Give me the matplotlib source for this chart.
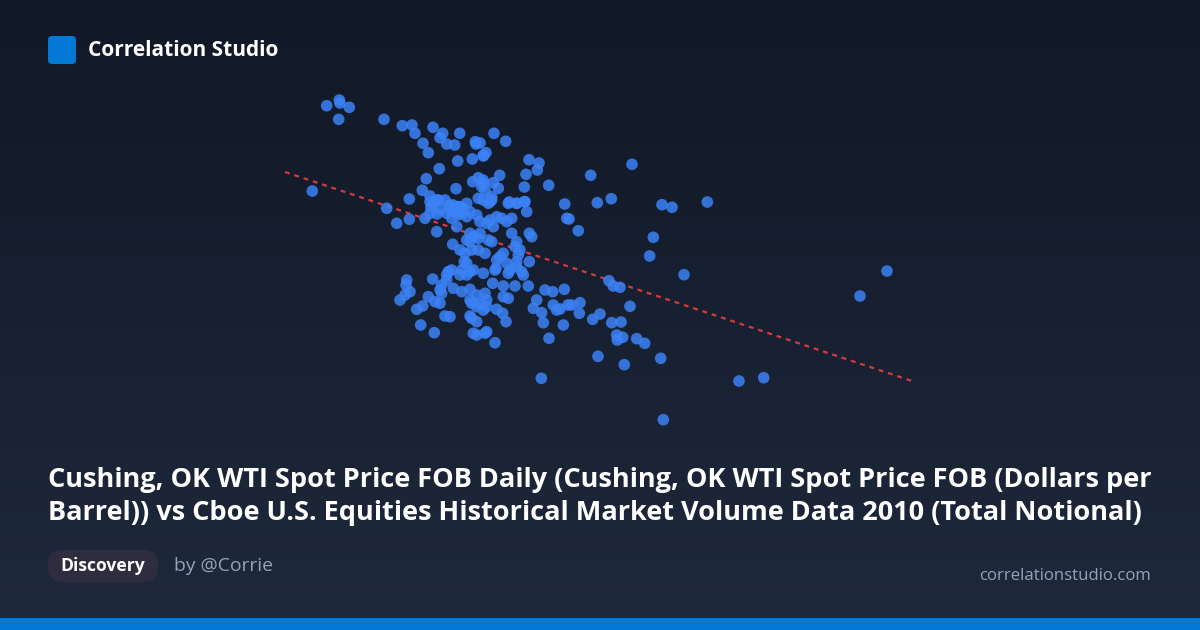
import numpy as np
import matplotlib.pyplot as plt
from matplotlib.patches import FancyBboxPatch, Rectangle

# scatter values (horizontal / vertical position units)
x_vals = [
    326.7, 339.3, 340.0, 349.3, 338.7, 384.0, 402.3, 412.0, 415.0, 433.0,
    442.7, 440.0, 446.7, 454.7, 459.7, 423.0, 428.3, 475.3, 476.0, 483.3,
    457.7, 472.3, 439.3, 426.3, 422.3, 456.0, 472.7, 478.3, 483.3, 312.3,
    409.3, 430.0, 438.3, 453.0, 460.0, 478.3, 483.3, 386.7, 494.0, 505.7,
    480.0, 486.0, 483.3, 529.0, 539.0, 537.3, 526.0, 499.7, 493.3, 498.3,
    483.0, 481.7, 485.0, 548.7, 524.3, 590.7, 632.0, 509.3, 516.7, 524.3,
    491.7, 490.0, 564.7, 597.3, 611.3, 662.0, 672.0, 707.3, 396.7, 409.3,
    425.0, 430.0, 433.3, 436.7, 436.7, 450.0, 455.0, 458.3, 461.7, 446.7,
    451.7, 456.7, 466.7, 470.0, 466.7, 476.7, 480.0, 486.7, 490.0, 493.3,
    488.3, 491.7, 496.7, 501.7, 506.7, 511.7, 508.3, 516.7, 525.0, 526.7,
    566.7, 470.0, 473.3, 478.3, 480.0, 466.7, 470.0, 488.3, 491.7, 452.7,
    460.0, 465.0, 471.7, 478.3, 485.0, 511.7, 516.7, 515.0, 529.3, 531.7,
    520.0, 518.3, 503.3, 500.0, 496.7, 464.3, 466.7, 529.3, 516.7, 506.7,
    510.0, 508.3, 516.7, 521.7, 523.3, 496.0, 495.0, 448.3, 446.7, 451.7,
    461.7, 460.0, 466.7, 470.0, 473.3, 483.3, 432.7, 406.7, 406.0, 410.0,
    405.0, 400.0, 446.7, 441.7, 440.0, 441.7, 453.3, 461.7, 470.0, 492.7,
    503.3, 515.0, 528.3, 503.3, 508.3, 476.7, 485.0, 486.7, 480.0, 486.7,
    483.3, 470.0, 471.7, 476.7, 428.3, 435.0, 440.0, 422.7, 416.7, 445.0,
    450.0, 470.0, 471.7, 476.7, 496.7, 502.7, 506.0, 420.7, 434.3, 473.3,
    476.7, 485.0, 486.7, 495.0, 545.0, 552.7, 564.3, 536.7, 533.3, 541.7,
    543.3, 553.3, 556.7, 563.3, 549.0, 568.0, 569.0, 578.3, 653.3, 649.7,
    684.0, 609.0, 613.3, 620.0, 571.7, 580.0, 579.3, 560.0, 592.7, 600.0,
    630.0, 611.7, 621.0, 616.7, 622.7, 617.3, 636.7, 644.7, 598.0, 624.3,
    660.7, 541.3, 739.0, 763.7, 663.3, 860.0, 887.0, 430.0, 445.0, 449.0,
    452.0, 455.0, 458.0, 440.0, 463.0, 431.0, 437.0,
]
y_vals = [
    105.7, 100.0, 103.0, 107.3, 119.3, 119.3, 125.7, 125.0, 133.3, 127.3,
    133.3, 137.7, 144.0, 145.0, 133.3, 143.3, 152.7, 141.7, 144.0, 155.3,
    161.0, 159.0, 168.7, 178.7, 190.3, 188.7, 181.7, 177.7, 183.3, 191.0,
    199.0, 201.7, 200.0, 205.0, 206.7, 198.3, 200.0, 208.3, 133.3, 141.3,
    143.0, 152.7, 156.0, 159.7, 163.0, 170.0, 174.3, 175.3, 182.7, 188.3,
    180.0, 186.7, 190.0, 185.3, 187.0, 175.3, 164.3, 202.0, 203.3, 201.7,
    196.7, 201.7, 204.0, 202.7, 198.7, 204.7, 207.3, 202.0, 223.3, 219.3,
    218.3, 213.3, 203.3, 200.0, 231.7, 205.0, 208.3, 206.7, 213.3, 213.3,
    218.3, 226.7, 203.3, 211.7, 216.7, 215.0, 221.7, 223.3, 220.0, 226.7,
    203.3, 200.0, 216.7, 218.3, 221.7, 218.3, 203.3, 203.3, 201.7, 211.7,
    218.3, 233.3, 236.7, 238.3, 233.3, 240.0, 241.7, 240.0, 241.7, 244.3,
    250.0, 253.3, 250.0, 250.0, 253.3, 233.3, 241.7, 246.7, 233.3, 236.7,
    250.0, 255.0, 253.3, 256.7, 260.0, 261.7, 263.3, 261.7, 261.7, 263.3,
    270.0, 273.3, 266.7, 271.7, 275.0, 268.3, 270.0, 271.7, 275.0, 270.0,
    270.0, 275.0, 275.0, 271.7, 270.0, 273.3, 279.0, 280.0, 285.0, 291.7,
    295.0, 300.0, 280.0, 285.0, 290.0, 293.3, 288.3, 291.7, 289.3, 283.3,
    286.0, 286.0, 286.0, 296.7, 298.3, 295.0, 293.3, 300.0, 303.3, 306.7,
    310.0, 300.0, 303.3, 306.7, 296.7, 301.7, 303.3, 306.0, 309.3, 316.0,
    316.7, 316.0, 318.3, 321.7, 309.3, 313.3, 321.7, 325.0, 332.7, 333.3,
    335.0, 333.3, 331.7, 342.7, 290.0, 291.7, 289.3, 300.0, 308.3, 312.7,
    322.7, 305.0, 310.0, 325.0, 338.3, 305.0, 219.0, 230.7, 237.3, 256.0,
    274.7, 280.7, 286.0, 287.3, 305.0, 302.7, 313.3, 309.0, 319.3, 314.0,
    306.3, 322.7, 322.0, 335.0, 337.3, 340.0, 338.7, 343.3, 356.3, 364.7,
    358.3, 378.3, 381.0, 377.7, 419.7, 296.0, 271.0, 196.0, 200.0, 206.0,
    210.0, 212.0, 215.0, 210.0, 208.0, 207.0, 214.0,
]

# fitted trend line
trend_x_range = [285.0, 915.0]
trend_slope = 0.3333
trend_at_start = 172.0

title_lines = [
    "Cushing, OK WTI Spot Price FOB Daily (Cushing, OK WTI Spot Price FOB (Dollars per",
    "Barrel)) vs Cboe U.S. Equities Historical Market Volume Data 2010 (Total Notional)",
]
brand = "Correlation Studio"
tag = "Discovery"
author = "by @Corrie"
site = "correlationstudio.com"

W, H = 1200, 630
fig = plt.figure(figsize=(W / 100, H / 100), dpi=100)

# background gradient
bg = fig.add_axes([0, 0, 1, 1])
grad = np.linspace(0, 1, 256).reshape(-1, 1)
top = np.array([17, 24, 39]) / 255
bot = np.array([30, 41, 59]) / 255
img = top + (bot - top) * grad[..., None]
bg.imshow(img, aspect="auto", extent=[0, W, H, 0])
bg.set_xlim(0, W)
bg.set_ylim(H, 0)
bg.axis("off")

# scatter layer
ax = fig.add_axes([0, 0, 1, 1])
ax.set_xlim(0, W)
ax.set_ylim(H, 0)
ax.axis("off")
ax.patch.set_alpha(0)

ax.scatter(x_vals, y_vals, s=70, color="#3b82f6", alpha=0.85, edgecolors="none", zorder=3)

tx = np.array(trend_x_range)
ty = trend_at_start + (tx - tx[0]) * trend_slope
ax.plot(tx, ty, color="#d63a3f", linewidth=1.6, linestyle=(0, (2.2, 2.2)), zorder=2)

# header
ax.add_patch(FancyBboxPatch((48, 36), 28, 28, boxstyle="round,pad=0,rounding_size=4",
                            facecolor="#0078d4", edgecolor="none"))
ax.text(88, 51, brand, color="white", fontsize=15, fontweight="bold",
        family="Open Sans", va="center", ha="left")

# title
for i, line in enumerate(title_lines):
    ax.text(48, 480 + i * 33, line, color="white", fontsize=19.5, fontweight="bold",
            family="Open Sans", va="center", ha="left")

# footer
ax.add_patch(FancyBboxPatch((48, 550), 110, 32, boxstyle="round,pad=0,rounding_size=14",
                            facecolor="#2e2c3e", edgecolor="none"))
ax.text(103, 566, tag, color="white", fontsize=12.6, fontweight="bold",
        family="Open Sans", va="center", ha="center")
ax.text(174, 566, author, color="#94a3b8", fontsize=13.9,
        family="Open Sans", va="center", ha="left")
ax.text(1151, 576, site, color="#94a3b8", fontsize=12.1,
        family="Open Sans", va="center", ha="right")

ax.add_patch(Rectangle((0, 618), W, 12, facecolor="#0078d4", edgecolor="none"))

fig.savefig("out.png", dpi=100, facecolor=fig.get_facecolor())
